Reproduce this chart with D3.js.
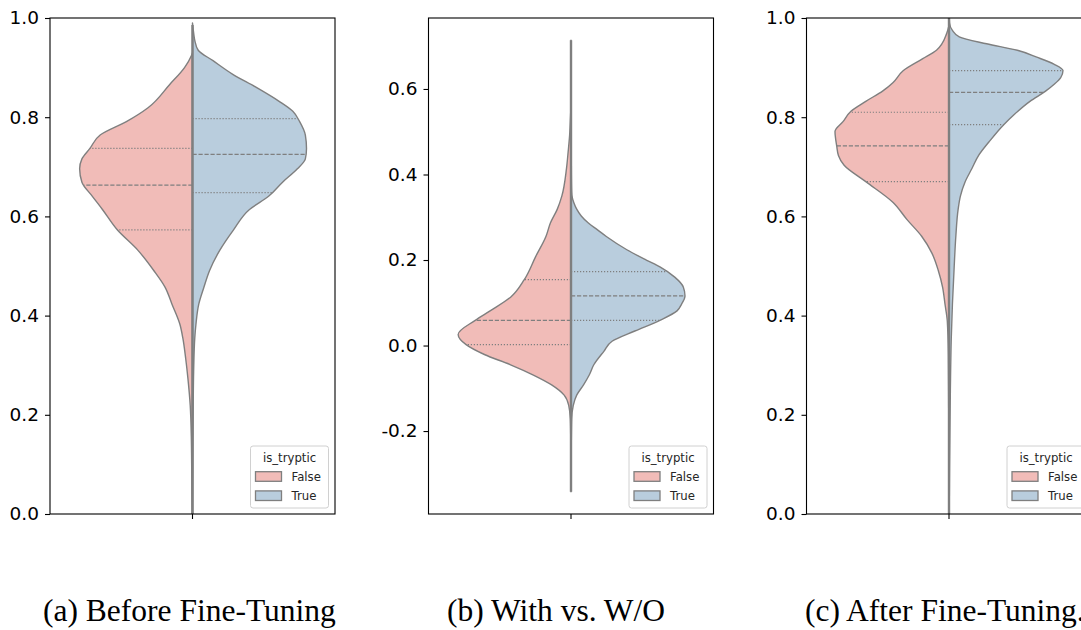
<!DOCTYPE html>
<html>
<head>
<meta charset="utf-8">
<script src="https://cdn.jsdelivr.net/npm/d3@7"></script>
<style>
  body { margin: 0; background: #fff; }
  svg { display: block; }
</style>
</head>
<body>
<svg width="1081" height="630"></svg>
<script>
var svg = d3.select('svg');

// density profiles: [value, relative half-width]
var beforeFalse = [[0.93, 0], [0.924, 0.01], [0.900, 0.07], [0.866, 0.20], [0.819, 0.39], [0.791, 0.58],
  [0.764, 0.81], [0.737, 0.90], [0.716, 0.97], [0.696, 0.99], [0.669, 0.97], [0.641, 0.88],
  [0.614, 0.79], [0.573, 0.66], [0.532, 0.48], [0.491, 0.34], [0.457, 0.24], [0.423, 0.18],
  [0.382, 0.11], [0.355, 0.085], [0.314, 0.06], [0.273, 0.04], [0.219, 0.02], [0.151, 0.01],
  [0.0, 0.003], [-0.02, 0]];
var beforeTrue = [[0.99, 0], [0.97, 0.01], [0.955, 0.02], [0.935, 0.05], [0.914, 0.18], [0.887, 0.35],
  [0.860, 0.56], [0.832, 0.76], [0.812, 0.88], [0.791, 0.94], [0.764, 0.99], [0.737, 1.0],
  [0.716, 0.99], [0.696, 0.92], [0.669, 0.79], [0.641, 0.67], [0.614, 0.50], [0.573, 0.36],
  [0.532, 0.24], [0.491, 0.15], [0.457, 0.10], [0.423, 0.055], [0.382, 0.03], [0.355, 0.02],
  [0.287, 0.01], [0.219, 0.006], [0.1, 0.002], [0.0, 0]];

var withFalse = [[0.56, 0], [0.532, 0.005], [0.492, 0.012], [0.453, 0.025], [0.413, 0.04], [0.350, 0.08],
  [0.319, 0.12], [0.287, 0.18], [0.255, 0.22], [0.208, 0.31], [0.154, 0.41], [0.113, 0.53],
  [0.081, 0.71], [0.059, 0.84], [0.026, 0.99], [0.002, 0.92], [-0.021, 0.76], [-0.045, 0.53],
  [-0.069, 0.33], [-0.092, 0.17], [-0.116, 0.06], [-0.140, 0.02], [-0.172, 0.006], [-0.22, 0.002],
  [-0.26, 0]];
var withTrue = [[0.714, 0], [0.55, 0.002], [0.42, 0.003], [0.36, 0.006], [0.345, 0.012], [0.334, 0.025],
  [0.319, 0.05], [0.303, 0.09], [0.287, 0.15], [0.271, 0.23], [0.255, 0.31], [0.224, 0.49],
  [0.200, 0.66], [0.184, 0.78], [0.160, 0.91], [0.137, 0.985], [0.116, 1.0], [0.097, 0.97],
  [0.081, 0.93], [0.059, 0.78], [0.034, 0.56], [0.010, 0.36], [-0.013, 0.29], [-0.045, 0.20],
  [-0.069, 0.16], [-0.092, 0.11], [-0.116, 0.05], [-0.140, 0.02], [-0.172, 0.006], [-0.25, 0.002],
  [-0.342, 0]];

var afterFalse = [[0.985, 0], [0.969, 0.02], [0.935, 0.11], [0.918, 0.23], [0.894, 0.40], [0.870, 0.49],
  [0.853, 0.58], [0.832, 0.73], [0.812, 0.86], [0.791, 0.93], [0.771, 1.0], [0.742, 0.985],
  [0.723, 0.97], [0.703, 0.92], [0.670, 0.73], [0.628, 0.49], [0.594, 0.37], [0.560, 0.24],
  [0.526, 0.15], [0.491, 0.094], [0.457, 0.056], [0.423, 0.035], [0.389, 0.015], [0.321, 0.006],
  [0.219, 0.003], [0.0, 0]];
var afterTrue = [[1.02, 0], [0.99, 0.005], [0.975, 0.03], [0.962, 0.09], [0.948, 0.33], [0.935, 0.60],
  [0.921, 0.77], [0.907, 0.92], [0.894, 1.0], [0.880, 0.98], [0.866, 0.92], [0.853, 0.85],
  [0.832, 0.71], [0.805, 0.57], [0.785, 0.48], [0.750, 0.35], [0.723, 0.26], [0.696, 0.20],
  [0.669, 0.14], [0.641, 0.10], [0.614, 0.08], [0.560, 0.06], [0.491, 0.044], [0.423, 0.03],
  [0.355, 0.02], [0.25, 0.012], [0.1, 0.005], [0.0, 0.002]];

// quartiles [q1, median, q3]
var beforeQuart = {False: [0.573, 0.663, 0.737], True: [0.648, 0.725, 0.797]};
var withQuart = {False: [0.002, 0.059, 0.154], True: [0.059, 0.116, 0.173]};
var afterQuart = {False: [0.670, 0.742, 0.810], True: [0.785, 0.850, 0.894]};

var captions = ['(a) Before Fine-Tuning', '(b) With vs. W/O', '(c) After Fine-Tuning.'];
var yDomains = [[0, 1], [-0.394, 0.766], [0, 1]];
var yTicks = [[0, 0.2, 0.4, 0.6, 0.8, 1.0], [-0.2, 0, 0.2, 0.4, 0.6], [0, 0.2, 0.4, 0.6, 0.8, 1.0]];
var lineRange = [[0, 0.986], [-0.342, 0.714], [0, 1.0]];
var hues = ['False', 'True'];

var panels = [
  {False: beforeFalse, True: beforeTrue, quart: beforeQuart},
  {False: withFalse, True: withTrue, quart: withQuart},
  {False: afterFalse, True: afterTrue, quart: afterQuart}
];

var color = d3.scaleOrdinal().domain(hues).range(['#f1bcb8', '#b9cddd']);
var lineColor = '#7f7f7f';

var lefts = [50, 428.5, 806.5];
var plotW = 285;
var plotTop = 18;
var plotBottom = 514;
var captionX = [43, 447, 805];

// half-width of the outline at value v, for the quartile lines
function widthAt(prof, v) {
  for (var i = 0; i < prof.length - 1; i++) {
    var a = prof[i], b = prof[i + 1];
    if (v <= a[0] && v >= b[0]) {
      var t = (a[0] - v) / (a[0] - b[0]);
      return a[1] + t * (b[1] - a[1]);
    }
  }
  return 0;
}

panels.forEach(function(p, k) {
  var g = svg.append('g');
  var x = d3.scaleBand().domain(['']).range([lefts[k], lefts[k] + plotW]);
  var cx = x('') + x.bandwidth() / 2;
  var y = d3.scaleLinear().domain(yDomains[k]).range([plotBottom, plotTop]);
  var w = d3.scaleLinear().domain([0, 1]).range([0, 0.4 * x.bandwidth()]);

  var clipId = 'clip' + k;
  svg.append('clipPath').attr('id', clipId)
    .append('rect')
    .attr('x', lefts[k]).attr('y', plotTop)
    .attr('width', plotW).attr('height', plotBottom - plotTop);

  var body = g.append('g').attr('clip-path', 'url(#' + clipId + ')');

  hues.forEach(function(h) {
    var sign = h === 'False' ? -1 : 1;
    var area = d3.area()
      .curve(d3.curveMonotoneY)
      .y(function(d) { return y(d[0]); })
      .x0(cx)
      .x1(function(d) { return cx + sign * w(d[1]); });

    body.append('path')
      .datum(p[h])
      .attr('d', area)
      .attr('fill', color(h))
      .attr('stroke', lineColor)
      .attr('stroke-width', 1.4)
      .attr('stroke-linejoin', 'round');

    // quartile lines: dotted, dashed median, dotted
    p.quart[h].forEach(function(q, i) {
      body.append('line')
        .attr('x1', cx)
        .attr('x2', cx + sign * w(widthAt(p[h], q)))
        .attr('y1', y(q)).attr('y2', y(q))
        .attr('stroke', lineColor)
        .attr('stroke-width', 1.2)
        .attr('stroke-dasharray', i === 1 ? '4.2,1.8' : '1.2,1.8');
    });
  });

  // center line
  body.append('line')
    .attr('x1', cx).attr('x2', cx)
    .attr('y1', y(lineRange[k][0])).attr('y2', y(lineRange[k][1]))
    .attr('stroke', lineColor)
    .attr('stroke-width', 2.4);

  // axes
  var yAxis = d3.axisLeft(y)
    .tickValues(yTicks[k])
    .tickSize(5)
    .tickSizeOuter(0)
    .tickPadding(6)
    .tickFormat(function(d) { return d3.format('.1f')(d).replace('\u2212', '-'); });
  var ya = g.append('g')
    .attr('transform', 'translate(' + lefts[k] + ',0)')
    .call(yAxis);
  ya.select('.domain').remove();
  ya.selectAll('line').attr('stroke', '#000').attr('stroke-width', 1.1);
  ya.selectAll('text')
    .attr('font-family', 'DejaVu Sans')
    .attr('font-size', 18.5)
    .attr('fill', '#000');

  var xa = g.append('g')
    .attr('transform', 'translate(0,' + plotBottom + ')')
    .call(d3.axisBottom(x).tickSize(5).tickSizeOuter(0).tickFormat(''));
  xa.select('.domain').remove();
  xa.selectAll('line').attr('stroke', '#000').attr('stroke-width', 1.1);

  // frame
  g.append('rect')
    .attr('x', lefts[k]).attr('y', plotTop)
    .attr('width', plotW).attr('height', plotBottom - plotTop)
    .attr('fill', 'none')
    .attr('stroke', '#000')
    .attr('stroke-width', 1.1);

  // legend, lower right
  var lx = lefts[k] + plotW - 6.5 - 78;
  var ly = 446;
  var leg = g.append('g').attr('transform', 'translate(' + lx + ',' + ly + ')');
  leg.append('rect')
    .attr('width', 78).attr('height', 62)
    .attr('rx', 2.5)
    .attr('fill', 'rgba(255,255,255,0.8)')
    .attr('stroke', '#d0d0d0')
    .attr('stroke-width', 1);
  leg.append('text')
    .attr('x', 39).attr('y', 12)
    .attr('dy', '0.35em')
    .attr('text-anchor', 'middle')
    .attr('font-family', 'DejaVu Sans')
    .attr('font-size', 11.7)
    .attr('fill', '#262626')
    .text('is_tryptic');
  hues.forEach(function(h, i) {
    var cy = 30.5 + i * 19.2;
    leg.append('rect')
      .attr('x', 5).attr('y', cy - 4.8)
      .attr('width', 26).attr('height', 9.6)
      .attr('fill', color(h))
      .attr('stroke', lineColor)
      .attr('stroke-width', 1.3);
    leg.append('text')
      .attr('x', 41).attr('y', cy)
      .attr('dy', '0.35em')
      .attr('font-family', 'DejaVu Sans')
      .attr('font-size', 11.7)
      .attr('fill', '#262626')
      .text(h);
  });

  // caption
  svg.append('text')
    .attr('x', captionX[k]).attr('y', 621)
    .attr('font-family', 'Liberation Serif')
    .attr('font-size', 31.5)
    .attr('fill', '#000')
    .text(captions[k]);
});
</script>
</body>
</html>
